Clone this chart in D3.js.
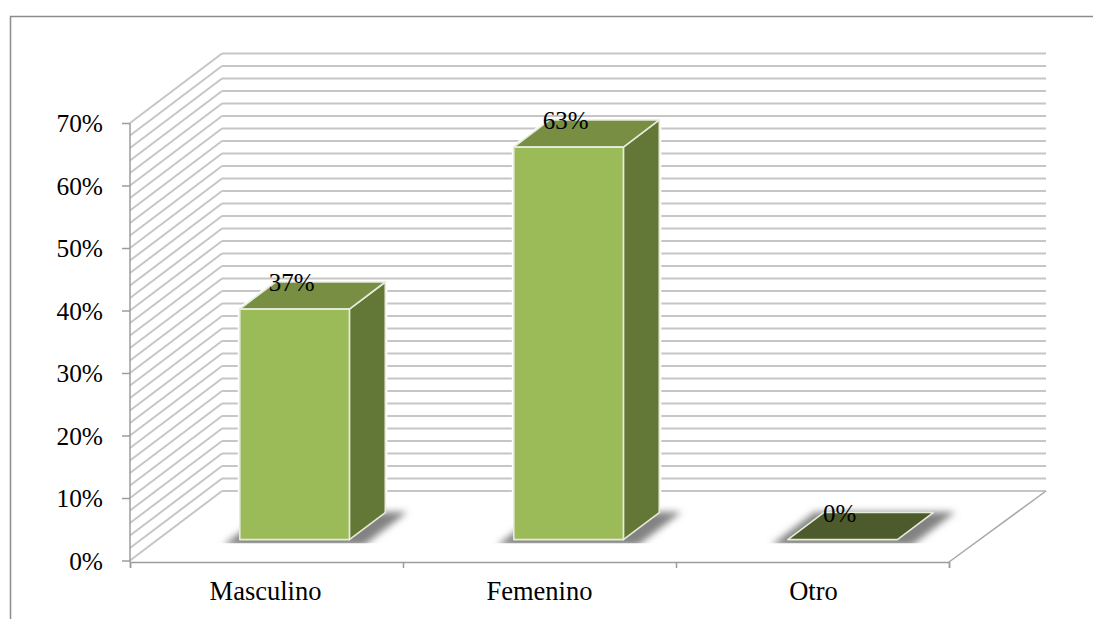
<!DOCTYPE html>
<html>
<head>
<meta charset="utf-8">
<script src="https://cdn.jsdelivr.net/npm/d3@7/dist/d3.min.js"></script>
<style>
  html, body { margin: 0; padding: 0; background: #fff; }
  svg { display: block; }
  text { font-family: "Liberation Serif", "Times New Roman", serif; fill: #000; }
</style>
</head>
<body>
<svg id="chart" width="1093" height="619"></svg>
<script>
// Survey results by gender, in percent
const categories = ["Masculino", "Femenino", "Otro"];
const shares = [37, 63, 0];
const majorTicks = [0, 10, 20, 30, 40, 50, 60, 70];

const svg = d3.select("#chart");

// Front plane of the 3D box
const left = 130, right = 949, floorY = 562;
const depthX = 92, depthY = -69.5;

const y = d3.scaleLinear().domain([0, 70]).range([560.5, 123]);
const x = d3.scaleBand().domain(categories).range([left, right + 3])
  .paddingInner(0.6).paddingOuter(0.3);

// Depth fractions of a bar's front and back faces inside the box,
// and the slight foreshortening of heights at that depth
const barFront = 0.3, barBack = 0.69, barHeightScale = 0.997;

const pts = a => a.map(p => p.join(",")).join(" ");
const barHeight = v => (y(0) - y(v)) * barHeightScale;
const barBase = y(0) + depthY * barFront;

const defs = svg.append("defs");
defs.append("filter").attr("id", "soft")
  .attr("x", "-30%").attr("y", "-60%").attr("width", "160%").attr("height", "220%")
  .append("feGaussianBlur").attr("stdDeviation", 3.5);
// Floor shadows stop just below the bars' front edge
defs.append("clipPath").attr("id", "floorClip")
  .append("rect").attr("x", 0).attr("y", 0).attr("width", 1093).attr("height", barBase + 3.5);

// Outer chart frame
svg.append("path")
  .attr("d", "M10.5,619V16.5H1093")
  .attr("fill", "none").attr("stroke", "#8c8c8c").attr("stroke-width", 1.5);

// Back wall and side wall gridlines, one every 2%
const gridValues = y.ticks(35);
const grid = svg.append("g").attr("fill", "none").attr("stroke", "#c6c6c6");
grid.selectAll("line.back").data(gridValues).join("line").attr("class", "back")
  .attr("x1", left + depthX).attr("x2", right + depthX + 5)
  .attr("y1", d => y(d) + depthY).attr("y2", d => y(d) + depthY)
  .attr("stroke-width", 2);
grid.selectAll("line.side").data(gridValues).join("line").attr("class", "side")
  .attr("x1", left).attr("x2", left + depthX)
  .attr("y1", d => y(d)).attr("y2", d => y(d) + depthY)
  .attr("stroke-width", 2);

// Right edge of the floor
svg.append("line")
  .attr("x1", right).attr("y1", floorY)
  .attr("x2", right + depthX + 5).attr("y2", y(0) + depthY)
  .attr("stroke", "#a8a8a8").attr("stroke-width", 1.5);

// Bars
const bars = svg.selectAll("g.bar")
  .data(categories.map((c, i) => ({ c, v: shares[i] })))
  .join("g").attr("class", "bar");

bars.each(function (d) {
  const g = d3.select(this);
  const x0 = x(d.c) + depthX * barFront;
  const x1 = x0 + x.bandwidth();
  const base = barBase;
  const top = base - barHeight(d.v);
  const dx = depthX * (barBack - barFront);
  const dy = depthY * (barBack - barFront);

  const front = [[x0, top], [x1, top], [x1, base], [x0, base]];
  const side = [[x1, top], [x1 + dx, top + dy], [x1 + dx, base + dy], [x1, base]];
  const cap = [[x0, top], [x1, top], [x1 + dx, top + dy], [x0 + dx, top + dy]];

  // White halo that separates a standing bar from the gridlines
  if (d.v > 0) {
    g.append("polygon")
      .attr("points", pts([[x0, base], [x0, top], [x0 + dx, top + dy], [x1 + dx, top + dy], [x1 + dx, base + dy], [x1, base]]))
      .attr("fill", "#fff").attr("stroke", "#fff").attr("stroke-width", 4);
  }

  // Soft shadow cast on the floor
  g.append("g").attr("clip-path", "url(#floorClip)")
    .append("polygon")
    .attr("points", pts([[x0 - 17, base + 6], [x1 + 14, base + 6], [x1 + dx + 22, base + dy - 0.5], [x0 + dx - 9, base + dy - 0.5]]))
    .attr("fill", "#828282").attr("filter", "url(#soft)");

  const face = (p, fill) => g.append("polygon").attr("points", pts(p)).attr("fill", fill)
    .attr("stroke", "#e6ebda").attr("stroke-width", 1.6).attr("stroke-linejoin", "round");
  if (d.v > 0) {
    face(side, "#637736");
    face(cap, "#778e43");
    face(front, "#9bbb59");
  } else {
    face(cap, "#4d5a2b");
  }
});

// Value labels sitting on the bar tops
svg.selectAll("text.value")
  .data(categories.map((c, i) => ({ c, v: shares[i] })))
  .join("text").attr("class", "value")
  .attr("x", d => x(d.c) + x.bandwidth() / 2 + depthX * barFront - 3)
  .attr("y", d => barBase - barHeight(d.v) - 18)
  .attr("text-anchor", "middle").attr("font-size", 25)
  .text(d => d.v + "%");

// Vertical axis
const yAxis = svg.append("g").attr("transform", `translate(${left},0)`)
  .call(d3.axisLeft(y).tickValues(majorTicks).tickFormat(d => d + "%").tickSize(8).tickPadding(19));
yAxis.select(".domain").attr("d", `M0,${y(70)}V${floorY}`);
yAxis.selectAll("path,line").attr("stroke", "#9c9c9c").attr("stroke-width", 1.5);
yAxis.selectAll("text").attr("font-size", 25.4).attr("dy", "0.35em")
  .style("font-family", '"Liberation Serif", serif');

// Horizontal axis: ticks mark category boundaries, labels sit mid-band
const xBounds = d3.scaleLinear().domain([0, categories.length]).range([left, right]);
const xAxis = svg.append("g").attr("transform", `translate(0,${floorY})`)
  .call(d3.axisBottom(xBounds).tickValues(d3.range(categories.length + 1)).tickFormat("").tickSize(6));
xAxis.selectAll("path,line").attr("stroke", "#9c9c9c").attr("stroke-width", 1.5);

svg.selectAll("text.category").data(categories).join("text").attr("class", "category")
  .attr("x", d => x(d) + x.bandwidth() / 2 - 1.5)
  .attr("y", 600)
  .attr("text-anchor", "middle").attr("font-size", 26.5)
  .text(d => d);
</script>
</body>
</html>
